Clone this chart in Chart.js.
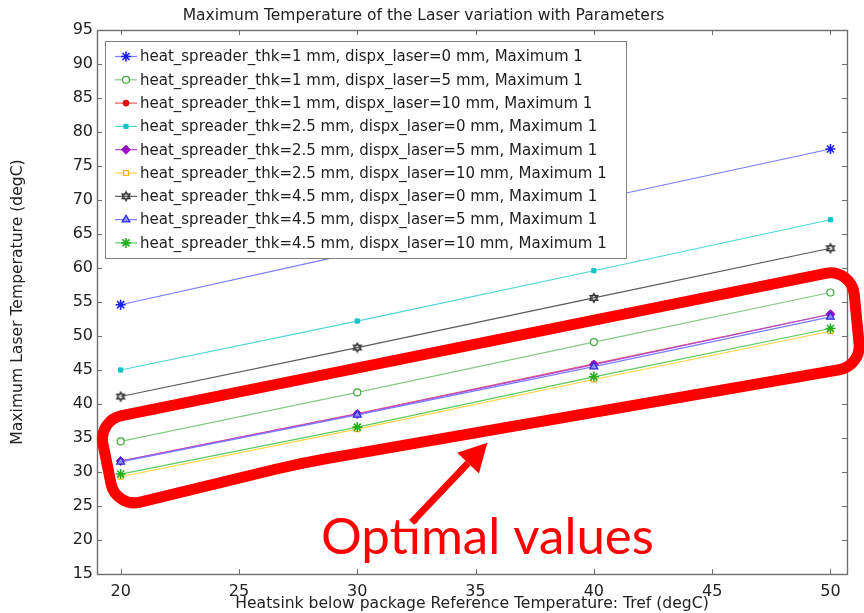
<!DOCTYPE html>
<html>
<head>
<meta charset="utf-8">
<script src="https://cdn.jsdelivr.net/npm/chart.js@4.4.1/dist/chart.umd.min.js"></script>
<style>
  html, body { margin: 0; padding: 0; background: #fff; }
</style>
</head>
<body>
<canvas id="chart" width="864" height="613"></canvas>
<script>
// x values (Tref, degC) and tick labels
const tref = [20, 30, 40, 50];
const xTicks = [20, 25, 30, 35, 40, 45, 50];

// Maximum laser temperature (degC), one array per parameter set
const thk1_dx0 = [54.6, 62.3, 70.0, 77.5];
const thk1_dx5 = [34.5, 41.7, 49.1, 56.4];
const thk1_dx10 = [31.6, 38.6, 45.9, 53.2];
const thk25_dx0 = [45.0, 52.2, 59.6, 67.1];
const thk25_dx5 = [31.6, 38.5, 45.8, 53.2];
const thk25_dx10 = [29.3, 36.3, 43.6, 50.7];
const thk45_dx0 = [41.1, 48.3, 55.6, 62.9];
const thk45_dx5 = [31.5, 38.4, 45.5, 52.8];
const thk45_dx10 = [29.7, 36.6, 44.0, 51.1];

const seriesLabels = [
  'heat_spreader_thk=1 mm, dispx_laser=0 mm, Maximum 1',
  'heat_spreader_thk=1 mm, dispx_laser=5 mm, Maximum 1',
  'heat_spreader_thk=1 mm, dispx_laser=10 mm, Maximum 1',
  'heat_spreader_thk=2.5 mm, dispx_laser=0 mm, Maximum 1',
  'heat_spreader_thk=2.5 mm, dispx_laser=5 mm, Maximum 1',
  'heat_spreader_thk=2.5 mm, dispx_laser=10 mm, Maximum 1',
  'heat_spreader_thk=4.5 mm, dispx_laser=0 mm, Maximum 1',
  'heat_spreader_thk=4.5 mm, dispx_laser=5 mm, Maximum 1',
  'heat_spreader_thk=4.5 mm, dispx_laser=10 mm, Maximum 1'
];

// hand drawn annotation, in data coordinates: outline of the red box
// (last value of each entry is the rounding radius in px), the arrow, the caption
const boxOutline = [[19.05, 37.6, 24], [50.9, 60.0, 24], [51.3, 45.6, 24], [27.6, 31.3, 800], [19.8, 24.7, 24]];
const arrowTail = [32.3, 22.6];
const arrowTip = [35.5, 34.3];
const captionAt = [35.5, 17.9];

// hollow hexagram marker for the black series
function hexagram(color) {
  const c = document.createElement('canvas');
  c.width = c.height = 12;
  const g = c.getContext('2d');
  g.strokeStyle = color;
  g.lineWidth = 1.2;
  const r = 4.6, m = 6;
  for (let t = 0; t < 2; t++) {
    g.beginPath();
    for (let k = 0; k < 3; k++) {
      const a = -Math.PI / 2 + t * Math.PI / 3 + k * 2 * Math.PI / 3;
      const px = m + r * Math.cos(a), py = m + r * Math.sin(a);
      if (k === 0) g.moveTo(px, py); else g.lineTo(px, py);
    }
    g.closePath();
    g.stroke();
  }
  return c;
}

const styles = [
  { line: '#7b7bff', mark: '#1c1cf0', shape: 'star', r: 5, fill: '#1c1cf0', bw: 1.6 },
  { line: '#86c986', mark: '#3aaa3a', shape: 'circle', r: 3.5, fill: '#ffffff', bw: 1.2 },
  { line: '#f05a5a', mark: '#dd1111', shape: 'circle', r: 3, fill: '#dd1111', bw: 1 },
  { line: '#4fd6d6', mark: '#14c4c4', shape: 'rect', r: 3, fill: '#14c4c4', bw: 1 },
  { line: '#b44ad8', mark: '#9a10c8', shape: 'rectRot', r: 4.5, fill: '#9a10c8', bw: 1 },
  { line: '#ffd24a', mark: '#f2b400', shape: 'rect', r: 3.5, fill: '#ffffff', bw: 1.2 },
  { line: '#5a5a5a', mark: '#333333', shape: hexagram('#333333'), r: 5, fill: '#ffffff', bw: 1 },
  { line: '#7b7bff', mark: '#2a2ae0', shape: 'triangle', r: 4.5, fill: '#8f8fff', bw: 1.2 },
  { line: '#5ccc5c', mark: '#22b022', shape: 'star', r: 5, fill: '#22b022', bw: 1.6 }
];

const seriesValues = [thk1_dx0, thk1_dx5, thk1_dx10, thk25_dx0, thk25_dx5, thk25_dx10, thk45_dx0, thk45_dx5, thk45_dx10];

const datasets = seriesValues.map((vals, i) => ({
  label: seriesLabels[i],
  data: tref.map((x, j) => ({ x: x, y: vals[j] })),
  borderColor: styles[i].line,
  borderWidth: 1.2,
  pointStyle: styles[i].shape,
  pointRadius: styles[i].r,
  pointBorderColor: styles[i].mark,
  pointBackgroundColor: styles[i].fill,
  pointBorderWidth: styles[i].bw,
  order: seriesValues.length - i
}));

const FONT = 'DejaVu Sans';

// inward tick marks and the full frame round the plot
const framePlugin = {
  id: 'frame',
  afterDatasetsDraw(chart) {
    const { ctx, chartArea: a, scales: { x, y } } = chart;
    ctx.save();
    ctx.strokeStyle = '#6e6e6e';
    ctx.lineWidth = 1;
    ctx.beginPath();
    x.ticks.forEach(t => {
      const px = Math.round(x.getPixelForValue(t.value)) + 0.5;
      ctx.moveTo(px, a.bottom); ctx.lineTo(px, a.bottom - 5);
      ctx.moveTo(px, a.top); ctx.lineTo(px, a.top + 5);
    });
    y.ticks.forEach(t => {
      const py = Math.round(y.getPixelForValue(t.value)) + 0.5;
      ctx.moveTo(a.left, py); ctx.lineTo(a.left + 5, py);
      ctx.moveTo(a.right, py); ctx.lineTo(a.right - 5, py);
    });
    ctx.stroke();
    ctx.lineWidth = 1.4;
    ctx.strokeRect(a.left + 0.5, a.top + 0.5, a.right - a.left, a.bottom - a.top);
    ctx.restore();
  }
};

// legend drawn inside the plot, top left
const insideLegend = {
  id: 'insideLegend',
  afterDatasetsDraw(chart) {
    const { ctx, chartArea: a } = chart;
    const bx = a.left + 8, by = a.top + 11, bw = 521, bh = 217, step = 23.3;
    ctx.save();
    ctx.fillStyle = '#ffffff';
    ctx.fillRect(bx, by, bw, bh);
    ctx.strokeStyle = '#808080';
    ctx.lineWidth = 1;
    ctx.strokeRect(bx + 0.5, by + 0.5, bw, bh);
    ctx.font = '15px ' + FONT;
    ctx.textBaseline = 'middle';
    chart.data.datasets.forEach((ds, i) => {
      const cy = by + 15.5 + i * step;
      ctx.strokeStyle = ds.borderColor;
      ctx.lineWidth = 1.2;
      ctx.beginPath();
      ctx.moveTo(bx + 10, cy); ctx.lineTo(bx + 32, cy);
      ctx.stroke();
      ctx.strokeStyle = ds.pointBorderColor;
      ctx.fillStyle = ds.pointBackgroundColor;
      ctx.lineWidth = ds.pointBorderWidth;
      if (Chart.helpers && Chart.helpers.drawPoint) {
        Chart.helpers.drawPoint(ctx, { pointStyle: ds.pointStyle, radius: ds.pointRadius, borderWidth: ds.pointBorderWidth, rotation: 0 }, bx + 21, cy);
      }
      ctx.fillStyle = '#1e1e1e';
      ctx.fillText(ds.label, bx + 35, cy + 1);
    });
    ctx.restore();
  }
};

// red box, arrow and caption
const annotation = {
  id: 'annotation',
  afterDraw(chart) {
    const { ctx, scales: { x, y } } = chart;
    const P = p => [x.getPixelForValue(p[0]), y.getPixelForValue(p[1])];
    const pts = boxOutline.map(p => P(p).concat(p[2]));
    ctx.save();
    ctx.strokeStyle = '#ff0000';
    ctx.fillStyle = '#ff0000';
    ctx.lineWidth = 11;
    ctx.lineJoin = 'round';
    ctx.beginPath();
    const n = pts.length;
    const start = [(pts[n - 1][0] + pts[0][0]) / 2, (pts[n - 1][1] + pts[0][1]) / 2];
    ctx.moveTo(start[0], start[1]);
    for (let i = 0; i < n; i++) {
      const c = pts[i], nx = pts[(i + 1) % n];
      ctx.arcTo(c[0], c[1], nx[0], nx[1], c[2]);
    }
    ctx.closePath();
    ctx.stroke();

    // arrow
    const t0 = P(arrowTail), t1 = P(arrowTip);
    const ang = Math.atan2(t1[1] - t0[1], t1[0] - t0[0]);
    const headLen = 28, headHalf = 15;
    const bxp = t1[0] - headLen * Math.cos(ang), byp = t1[1] - headLen * Math.sin(ang);
    ctx.lineWidth = 7;
    ctx.lineCap = 'butt';
    ctx.beginPath();
    ctx.moveTo(t0[0], t0[1]);
    ctx.lineTo(bxp, byp);
    ctx.stroke();
    ctx.beginPath();
    ctx.moveTo(t1[0], t1[1]);
    ctx.lineTo(bxp + headHalf * Math.sin(ang), byp - headHalf * Math.cos(ang));
    ctx.lineTo(bxp - headHalf * Math.sin(ang), byp + headHalf * Math.cos(ang));
    ctx.closePath();
    ctx.fill();

    // caption
    const c = P(captionAt);
    ctx.font = '51px Lato';
    ctx.textAlign = 'center';
    ctx.textBaseline = 'alphabetic';
    ctx.fillText('Optimal values', c[0], c[1]);
    ctx.restore();
  }
};

new Chart(document.getElementById('chart'), {
  type: 'line',
  data: { datasets: datasets },
  options: {
    responsive: false,
    animation: false,
    devicePixelRatio: 1,
    layout: { padding: { left: 0, right: 17, top: 0, bottom: 0 } },
    plugins: {
      legend: { display: false },
      tooltip: { enabled: false },
      title: {
        display: true,
        text: 'Maximum Temperature of the Laser variation with Parameters',
        color: '#222',
        font: { family: FONT, size: 15.5, weight: 'normal' },
        padding: { top: 7, bottom: 4.4 }
      }
    },
    scales: {
      x: {
        type: 'linear',
        min: 19,
        max: 50.7,
        afterBuildTicks: s => { s.ticks = xTicks.map(v => ({ value: v })); },
        afterFit: s => { s.height = 39; },
        grid: { display: false, drawTicks: false },
        border: { display: false },
        ticks: { color: '#222', font: { family: FONT, size: 16 }, padding: 8, maxRotation: 0, autoSkip: false },
        title: {
          display: true,
          text: 'Heatsink below package Reference Temperature: Tref (degC)',
          color: '#222',
          font: { family: FONT, size: 15.6 },
          padding: { top: 0, bottom: 0 }
        }
      },
      y: {
        min: 15,
        max: 95,
        afterFit: s => { s.width = 97; },
        grid: { display: false, drawTicks: false },
        border: { display: false },
        ticks: { stepSize: 5, color: '#222', font: { family: FONT, size: 16 }, padding: 4 },
        title: {
          display: true,
          text: 'Maximum Laser Temperature (degC)',
          color: '#222',
          font: { family: FONT, size: 15.6 },
          padding: { top: 9, bottom: 0 }
        }
      }
    }
  },
  plugins: [framePlugin, insideLegend, annotation]
});
</script>
</body>
</html>
